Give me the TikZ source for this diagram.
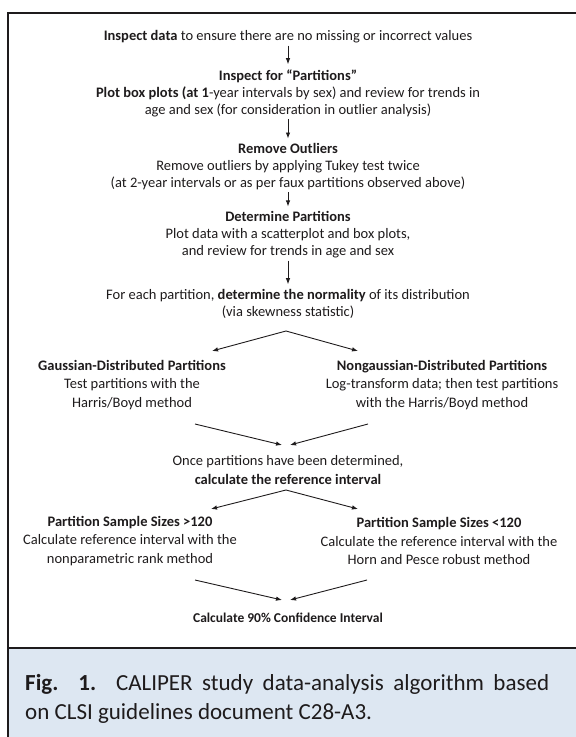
\documentclass[tikz,border=0pt]{standalone}
\usepackage{fontspec}
\setmainfont{Carlito}
\usetikzlibrary{arrows.meta}
\definecolor{ink}{RGB}{30,27,28}
\definecolor{capblue}{RGB}{221,231,242}

\begin{document}
\begin{tikzpicture}[x=1pt,y=-1pt,
  box/.style={align=center,inner sep=1pt,text=ink,font=\fontsize{14.5}{17}\selectfont},
  widebox/.style={box,font=\fontsize{14.5}{18.5}\selectfont},
  flow/.style={draw=ink,line width=0.9pt,-{Latex[length=6pt,width=4.5pt]}},
  vflow/.style={flow,shorten <=1pt,shorten >=4pt},
  frame/.style={draw=ink,line width=2.2pt},
  caption/.style={text width=524pt,align=justify,inner sep=0pt,text=ink,font=\fontsize{23}{29}\selectfont}]
\useasboundingbox (0,0) rectangle (576,737);
\fill[capblue] (8,648) rectangle (576,737);
\draw[frame] (8,737) -- (8,13) -- (576,13);
\draw[frame] (8,648) -- (576,648);
% main column
\node[box] (inspect) at (288,37) {\textbf{Inspect data} to ensure there are no missing or incorrect values};
\node[box] (partit) at (288,93) {\textbf{Inspect for “Partitions”}\\\textbf{Plot box plots (at 1}-year intervals by sex) and review for trends in\\age and sex (for consideration in outlier analysis)};
\node[box] (outl) at (288,167) {\textbf{Remove Outliers}\\Remove outliers by applying Tukey test twice\\(at 2-year intervals or as per faux partitions observed above)};
\node[box] (determ) at (288,235) {\textbf{Determine Partitions}\\Plot data with a scatterplot and box plots,\\and review for trends in age and sex};
\node[box] (normal) at (288,304) {For each partition, \textbf{determine the normality} of its distribution\\(via skewness statistic)};
\draw[vflow] (inspect) -- (partit);
\draw[vflow] (partit) -- (outl);
\draw[vflow] (outl) -- (determ);
\draw[vflow] (determ) -- (normal);
% gaussian or not
\node[widebox] (gauss) at (132,385) {\textbf{Gaussian-Distributed Partitions}\\Test partitions with the\\Harris/Boyd method};
\node[widebox] (nongauss) at (442,385) {\textbf{Nongaussian-Distributed Partitions}\\Log-transform data; then test partitions\\with the Harris/Boyd method};
\coordinate (fork1) at (286,331);
\coordinate (gaussin) at (212,351);
\coordinate (nongin) at (358,351);
\draw[flow] (fork1) -- (gaussin);
\draw[flow] (fork1) -- (nongin);
\node[widebox] (once) at (288,470) {Once partitions have been determined,\\\textbf{calculate the reference interval}};
\coordinate (gaussout) at (195,424);
\coordinate (nongout) at (368,424);
\draw[flow] (gaussout) -- (282,445) coordinate (join1);
\draw[flow] (nongout) -- (290,445) coordinate (join2);
% sample sizes
\node[widebox] (big) at (130,541) {\textbf{Partition Sample Sizes >120}\\Calculate reference interval with the\\nonparametric rank method};
\node[widebox] (small) at (439,541) {\textbf{Partition Sample Sizes <120}\\Calculate the reference interval with the\\Horn and Pesce robust method};
\coordinate (fork2) at (286,490);
\coordinate (bigin) at (211,509);
\coordinate (smallin) at (358,509);
\draw[flow] (fork2) -- (bigin);
\draw[flow] (fork2) -- (smallin);
\node[box,font=\fontsize{13.5}{15}\selectfont\bfseries] (conf) at (288,618) {Calculate 90\% Confidence Interval};
\coordinate (bigout) at (195,580);
\coordinate (smallout) at (367,580);
\draw[flow] (bigout) -- (282,600) coordinate (join3);
\draw[flow] (smallout) -- (290,600) coordinate (join4);
% caption
\node[caption,anchor=base west] (cap) at (25,690) {\textbf{Fig. 1.} CALIPER study data-analysis algorithm based\linebreak on CLSI guidelines document C28-A3.};
\end{tikzpicture}
\end{document}
